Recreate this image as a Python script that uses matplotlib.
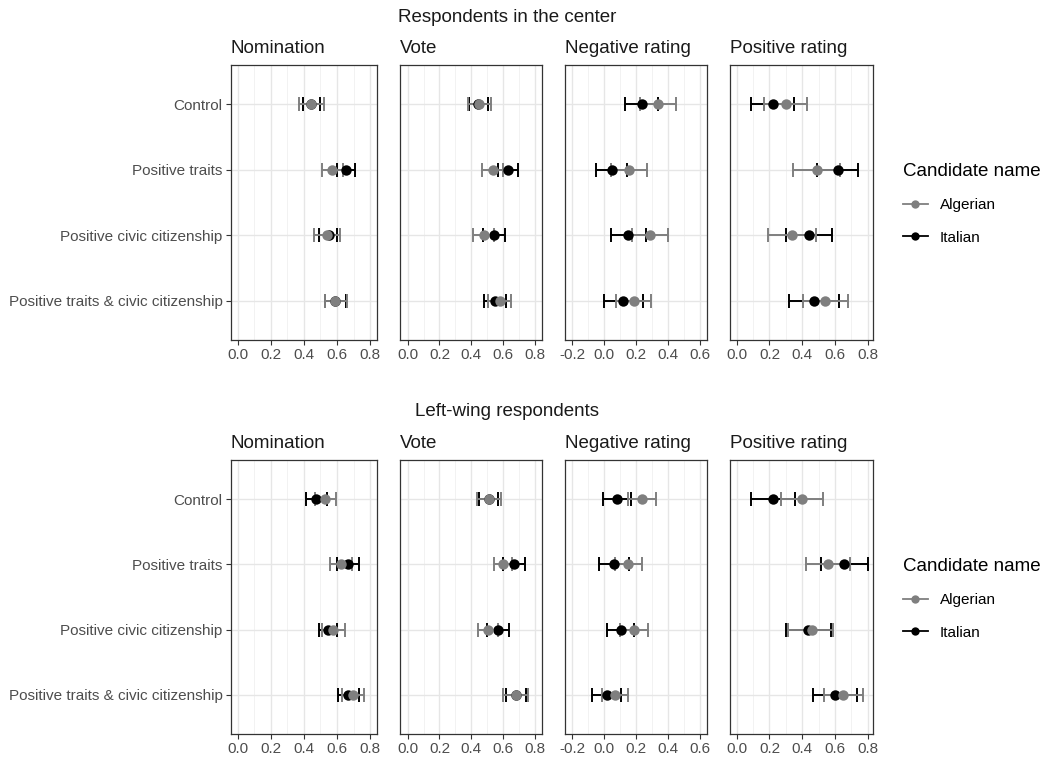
import matplotlib
matplotlib.use('Agg')
import matplotlib.pyplot as plt
from matplotlib.lines import Line2D
from matplotlib.ticker import MultipleLocator

plt.rcParams['font.family'] = ['Liberation Sans', 'DejaVu Sans']

conditions = ['Control', 'Positive traits', 'Positive civic citizenship',
              'Positive traits & civic citizenship']
measures = ['Nomination', 'Vote', 'Negative rating', 'Positive rating']
candidates = ['Algerian', 'Italian']

# rows: measures, columns: conditions
center_alg = [[0.445, 0.57, 0.54, 0.59],
              [0.45, 0.535, 0.48, 0.578],
              [0.335, 0.156, 0.287, 0.185],
              [0.30, 0.489, 0.336, 0.54]]
center_alg_lo = [[0.372, 0.509, 0.464, 0.525],
                 [0.378, 0.47, 0.413, 0.507],
                 [0.222, 0.041, 0.177, 0.075],
                 [0.167, 0.346, 0.189, 0.403]]
center_alg_hi = [[0.519, 0.635, 0.62, 0.66],
                 [0.522, 0.60, 0.545, 0.65],
                 [0.448, 0.271, 0.398, 0.292],
                 [0.431, 0.632, 0.483, 0.678]]
center_ita = [[0.445, 0.655, 0.55, 0.59],
              [0.445, 0.633, 0.543, 0.55],
              [0.235, 0.048, 0.152, 0.121],
              [0.22, 0.617, 0.443, 0.472]]
center_ita_lo = [[0.392, 0.60, 0.49, 0.53],
                 [0.385, 0.57, 0.475, 0.482],
                 [0.131, -0.05, 0.042, 0.0],
                 [0.085, 0.491, 0.302, 0.321]]
center_ita_hi = [[0.499, 0.711, 0.60, 0.655],
                 [0.505, 0.696, 0.612, 0.618],
                 [0.339, 0.146, 0.262, 0.242],
                 [0.352, 0.743, 0.584, 0.627]]

left_alg = [[0.53, 0.625, 0.578, 0.697],
            [0.51, 0.60, 0.507, 0.68],
            [0.235, 0.152, 0.1875, 0.069],
            [0.40, 0.556, 0.458, 0.651]]
left_alg_lo = [[0.47, 0.559, 0.51, 0.633],
               [0.434, 0.543, 0.444, 0.601],
               [0.147, 0.069, 0.098, -0.014],
               [0.271, 0.423, 0.315, 0.53]]
left_alg_hi = [[0.594, 0.69, 0.646, 0.761],
               [0.587, 0.657, 0.57, 0.759],
               [0.323, 0.235, 0.277, 0.152],
               [0.529, 0.689, 0.59, 0.77]]
left_ita = [[0.475, 0.667, 0.545, 0.665],
            [0.51, 0.668, 0.57, 0.68],
            [0.08, 0.0625, 0.104, 0.017],
            [0.22, 0.657, 0.438, 0.60]]
left_ita_lo = [[0.412, 0.60, 0.489, 0.606],
               [0.449, 0.60, 0.50, 0.618],
               [-0.008, -0.029, 0.021, -0.073],
               [0.085, 0.514, 0.30, 0.468]]
left_ita_hi = [[0.54, 0.735, 0.60, 0.731],
               [0.57, 0.738, 0.639, 0.742],
               [0.166, 0.154, 0.187, 0.107],
               [0.355, 0.80, 0.577, 0.733]]

colors = {'Algerian': '#7f7f7f', 'Italian': '#000000'}

W, H = 1050, 762
fig = plt.figure(figsize=(W / 100, H / 100), dpi=100)

col_px = [(231, 376.7), (400, 541.7), (565, 706.7), (730, 873.3)]
xlims = [(-0.04, 0.84), (-0.048, 0.843), (-0.244, 0.642), (-0.041, 0.834)]
xticks = [[0, 0.2, 0.4, 0.6, 0.8], [0, 0.2, 0.4, 0.6, 0.8],
          [-0.2, 0, 0.2, 0.4, 0.6], [0, 0.2, 0.4, 0.6, 0.8]]

blocks = [
    ('Respondents in the center', (65, 340),
     (center_alg, center_alg_lo, center_alg_hi),
     (center_ita, center_ita_lo, center_ita_hi)),
    ('Left-wing respondents', (460, 734),
     (left_alg, left_alg_lo, left_alg_hi),
     (left_ita, left_ita_lo, left_ita_hi)),
]

ypos = [1, 2, 3, 4]

for title, (ytop, ybot), alg, ita in blocks:
    series = [('Italian', ita), ('Algerian', alg)]  # Algerian drawn on top
    for j, m in enumerate(measures):
        x0, x1 = col_px[j]
        ax = fig.add_axes([x0 / W, 1 - ybot / H, (x1 - x0) / W, (ybot - ytop) / H])
        ax.set_facecolor('white')
        for name, (mean, lo, hi) in series:
            m_ = mean[j]
            err = [[m_[k] - lo[j][k] for k in range(4)],
                   [hi[j][k] - m_[k] for k in range(4)]]
            ax.errorbar(m_, ypos, xerr=err, fmt='none', ecolor=colors[name],
                        elinewidth=1.4, capsize=4.7, capthick=1.4, zorder=3)
        for name, (mean, lo, hi) in series:
            ax.plot(mean[j], ypos, 'o', color=colors[name], markersize=7.5,
                    markeredgewidth=0, zorder=4)
        ax.set_xlim(*xlims[j])
        ax.set_ylim(4.6, 0.4)
        ax.set_xticks(xticks[j])
        ax.set_xticklabels(['%.1f' % t for t in xticks[j]])
        ax.xaxis.set_minor_locator(MultipleLocator(0.1))
        ax.set_yticks(ypos)
        ax.grid(which='major', color='#e6e6e6', linewidth=1.0, zorder=0)
        ax.grid(which='minor', axis='x', color='#f0f0f0', linewidth=0.6, zorder=0)
        ax.set_axisbelow(True)
        for s in ax.spines.values():
            s.set_color('#333333')
            s.set_linewidth(0.9)
        ax.tick_params(which='minor', length=0)
        ax.tick_params(which='major', length=3.5, color='#333333', width=0.8,
                       labelsize=11, labelcolor='#4d4d4d', pad=2.5)
        if j == 0:
            ax.set_yticklabels(conditions)
        else:
            ax.tick_params(axis='y', left=False, labelleft=False)
        ax.set_title(m, loc='left', fontsize=13.5, color='#1a1a1a', pad=8.5)

    fig.text(507 / W, 1 - (ytop - 48) / H, title, ha='center', va='center',
             fontsize=13.5, color='#1a1a1a')

    # legend for the candidate colours
    handles = [Line2D([], [], color=colors[c], marker='o', markersize=6,
                      markeredgewidth=0, linewidth=1.3) for c in candidates]
    fig.legend(handles, candidates, title='Candidate name', loc='upper left',
               bbox_to_anchor=(897 / W, 1 - (ytop + 92) / H), frameon=False,
               fontsize=11, title_fontsize=13.5, alignment='left',
               handlelength=1.6, labelspacing=1.2, handletextpad=0.8,
               borderaxespad=0)

fig.savefig('out.png', dpi=100)
